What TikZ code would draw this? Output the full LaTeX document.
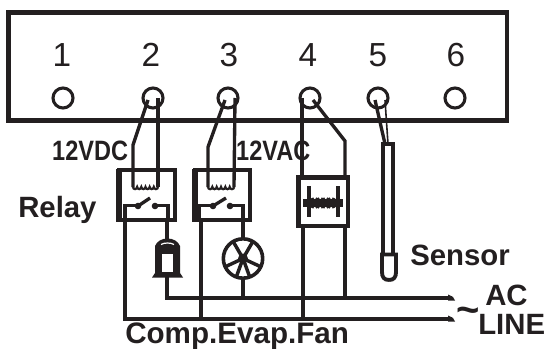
\documentclass[tikz,border=0pt]{standalone}
\usepackage{fontspec}
\setmainfont{Liberation Sans}
\definecolor{ink}{HTML}{231F20}
\tikzset{x=0.75pt,y=-0.75pt,
 wire/.style={draw=ink,line width=3.3pt,line join=miter},
 lead/.style={draw=ink,line width=2.5pt,line join=miter},
 tube/.style={draw=ink,line width=2.9pt,line join=miter},
 hair/.style={draw=ink,line width=1.2pt},
 term/.style={circle,draw=ink,line width=2.3pt,minimum size=15pt,inner sep=0pt,outer sep=0pt},
 num/.style={font=\fontsize{25}{25}\selectfont,text=ink,inner sep=0pt,anchor=base},
 lab/.style={font=\bfseries\fontsize{22}{22}\selectfont,text=ink,inner sep=0pt,anchor=base west},
 volt/.style={font=\bfseries\fontsize{21}{21}\selectfont,text=ink,inner sep=0pt,anchor=base west,xscale=.84},
 blade/.style={draw=ink,line width=2.6pt}}
\begin{document}
\begin{tikzpicture}
\useasboundingbox (0,0) rectangle (545,349);
% control panel
\draw[draw=ink,line width=3.6pt] (8.5,12.5) rectangle (507,120.5);
\foreach \n/\x/\tx in {1/62/63,2/151/153,3/229/228,4/308/310,5/378/378,6/456/455}{
 \node[num] (n\n) at (\x,67) {\n};
 \node[term] (t\n) at (\tx,98) {};
}
% named points
\coordinate (k2a) at (133,145); \coordinate (c2a) at (133,187); \coordinate (c2b) at (158,187);
\coordinate (k3a) at (208,147); \coordinate (c3a) at (208,187); \coordinate (c3b) at (234,187);
\coordinate (k4) at (345,141);
\coordinate (acA) at (452,298); \coordinate (acB) at (452,319);
% relay boxes
\draw[draw=ink,line width=3pt] (119,170) rectangle (175,220);
\draw[draw=ink,line width=3pt] (195,170) rectangle (250,220);
\draw[draw=ink,line width=4.5pt] (119,168.5) -- (119,221.5);
\draw[draw=ink,line width=4.5pt] (195,168.5) -- (195,221.5);
\draw[draw=ink,line width=3.4pt] (298.5,177.5) rectangle (348,226);
% terminal leads
\draw[lead] ([shift={(-5,2)}]t2.center) -- (k2a) -- (c2a);
\draw[lead] ([shift={(5,0)}]t2.center) -- (c2b);
\draw[lead] ([shift={(-3,2)}]t3.center) -- (k3a) -- (c3a);
\draw[lead] ([shift={(7,0)}]t3.center) -- (c3b);
\draw[lead] ([shift={(-8,0)}]t4.center) -- (302,177);
\draw[lead] ([shift={(3,2)}]t4.center) -- (k4) -- (345,177);
% relay coils
\draw[hair,line width=1.7pt] (c2a) \foreach \i in {1,...,6}{ arc[start angle=180,end angle=0,radius=2.08] };
\draw[hair,line width=1.7pt] (c3a) \foreach \i in {1,...,6}{ arc[start angle=180,end angle=0,radius=2.17] };
% relay switches
\draw[lead] (125,221) -- (125,205.5) -- (138,205.5);
\draw[lead] (138,206) -- (150,198);
\fill[ink] (138,206) circle[radius=3.3];
\fill[ink] (155,206) circle[radius=3.3];
\draw[lead] (155,205.5) -- (168,205.5) -- (168,221);
\draw[lead] (199,221) -- (199,205.5) -- (213,205.5);
\draw[lead] (213,206) -- (226,198);
\fill[ink] (213,206) circle[radius=3.3];
\fill[ink] (230,206) circle[radius=3.3];
\draw[lead] (230,205.5) -- (243,205.5) -- (243,221);
% fan coil (heater)
\draw[draw=ink,line width=5.8pt] (303,203) -- (343,203);
\draw[lead,line width=2.4pt] (309,186) -- (309,217) (338,186) -- (338,217);
\foreach \k in {0,...,3}{
 \draw[hair,line width=2.2pt] (312+\k*5.5,198) arc[start angle=180,end angle=0,radius=2.75];
 \draw[hair,line width=2.2pt] (312+\k*5.5,208) arc[start angle=180,end angle=360,radius=2.75];
}
% compressor
\fill[ink] (152,277.5) -- (155,273) -- (155,246) .. controls (157,241) and (162,238.5) .. (167.5,238.5) .. controls (173,238.5) and (178,241) .. (180,246) -- (180,273) -- (183,277.5) -- cycle;
\fill[white] (162,254) rectangle (173,272);
\draw[white,line width=.9pt] (161,244.5) .. controls (164,242.5) and (171,242.5) .. (174,244.5);
\coordinate (compT) at (167,240);
\coordinate (compB) at (167,277);
% evaporator fan
\node[circle,draw=ink,line width=2.7pt,minimum size=29.5pt,inner sep=0pt,outer sep=0pt] (fan) at (243,258.5) {};
\foreach \a in {60,120,205,335,250,290}{
 \draw[blade] (fan.center) -- (fan.\a);
}
\fill[ink] (fan.center) circle[radius=5];
% load wiring
\draw[wire] (125,219) -- (125,319) -- (acB);
\draw[wire] (201,219) -- (201,319);
\draw[wire] (303,227) -- (303,319);
\draw[wire] (167,219) -- (compT);
\draw[wire] (compB) -- (167,298) -- (acA);
\draw[lead] (243,219) -- (fan.north);
\draw[lead] (fan.south) -- (243,298);
\draw[wire] (345,227) -- (345,298);
\fill[ink] (448,294.5) -- (453,297) -- (455,300.5) -- (448,300.5) -- cycle;
\fill[ink] (448,315.5) -- (453,318) -- (455,321.5) -- (448,321.5) -- cycle;
% sensor
\draw[lead] ([shift={(-3,2)}]t5.center) -- (385,144);
\draw[hair] ([shift={(7,2)}]t5.center) -- (388,144);
\draw[tube] (383,254) -- (383,144) -- (393,144) -- (393,254);
\draw[tube] (389,280) .. controls (384,280) and (382,277) .. (382,272) -- (382,254.5) -- (396,254.5) -- (396,272) .. controls (396,277) and (394,280) .. (389,280);
% labels
\node[volt] (dc) at (52,160) {12VDC};
\node[volt] (ac) at (236,160) {12VAC};
\node[lab] (relay) at (18,217) {Relay};
\node[lab] (sensor) at (410,265) {Sensor};
\node[lab] (acl) at (485,305) {AC};
\node[lab] (line) at (478,334) {LINE};
\node[lab,font=\bfseries\fontsize{22.2}{23}\selectfont] (loads) at (125,343) {Comp.Evap.Fan};
\node[inner sep=0pt,text=ink,font=\bfseries\fontsize{30}{30}\selectfont] (tilde) at (468,315) {\char"007E};
\end{tikzpicture}
\end{document}
